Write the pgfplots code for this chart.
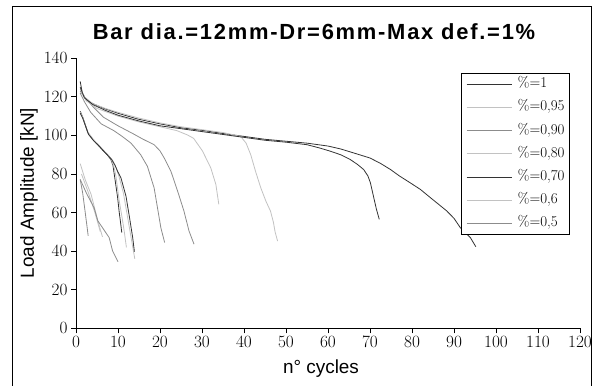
\documentclass[border=0pt]{standalone}
\usepackage{fontspec}
\usepackage{pgfplots}
\pgfplotsset{compat=1.18}
\newfontfamily\arial{Liberation Sans}
\newfontfamily\titlefont[LetterSpace=8]{Liberation Sans Bold}
\definecolor{cdark}{gray}{0.2}
\definecolor{cmed}{gray}{0.55}
\definecolor{clight}{gray}{0.76}
\begin{document}
\begin{tikzpicture}[x=1bp,y=1bp]
\begin{axis}[
  at={(76bp,56.7bp)}, anchor=south west,
  scale only axis, width=504bp, height=270bp,
  xmin=0, xmax=120, ymin=0, ymax=140,
  xtick={0,10,...,120}, ytick={0,20,...,140},
  axis x line*=bottom, axis y line*=left,
  axis line style={-, black, line width=0.8bp},
  tick align=outside, major tick length=5bp,
  tick style={black, line width=0.8bp},
  ticklabel style={font=\fontsize{16}{16}\selectfont},
  legend style={at={(0.763,0.9467)}, anchor=north west, draw=black, line width=0.8bp,
    fill=white, inner sep=5.2bp, row sep=11.2bp,
    nodes={inner sep=0pt, text height=9.5bp, text depth=2.5bp, font=\fontsize{15}{15}\selectfont}},
  legend cell align=left,
  legend image code/.code={\draw[#1] (0bp,0bp) -- (45bp,0bp); \path (51bp,0bp);},
  every axis plot/.append style={line width=0.8bp, mark=none},
]
% %=1
\addplot[cdark] coordinates {(1,128) (1.5,122) (2.4,118.5) (4,116.5) (6.7,114) (10,111.5) (14.7,108.5) (20,106) (25,104) (30.5,102.5) (35,101) (40,99.5) (45,98) (50,97) (55,96) (60,94.5) (63,93) (66,91) (70,88.3) (72.5,85.5) (74.9,82.3) (77,79) (79.6,75.4) (82,72) (84.4,67.7) (86.5,64) (88.3,60.8) (90,57) (91.5,52.2) (93.9,47) (95.2,42.3)};
\addlegendentry{\%=1}
% %=0.95
\addplot[clight] coordinates {(1,124) (2,120) (4,116.5) (7,114) (10,112) (15,109) (20,106.5) (25,104.5) (30,103) (35,101.5) (39.2,99.5) (40.5,96) (41.6,90) (42.8,81) (44,72.8) (45.2,66) (46.3,60.8) (47,55) (47.4,50) (48,45.2)};
\addlegendentry{\%=0,95}
% %=0.90
\addplot[cmed] coordinates {(1,123) (2,120) (4,115) (6.5,109.5) (10,105) (13.5,101) (16,98) (18.6,95.2) (20,92) (21,88.3) (22.6,81.4) (24.2,71.1) (25.7,60.8) (26.9,50.5) (28.1,43.6)};
\addlegendentry{\%=0,90}
% %=0.80
\addplot[clight] coordinates {(1,124) (2.4,118) (5,114) (10,110) (15,107) (21,104) (24,102.5) (26.5,100.3) (28,98.5) (30.1,92) (31,88) (32.1,83.1) (33.3,74.6) (34,64.3)};
\addlegendentry{\%=0,80}
% %=0.70
\addplot[cdark] coordinates {(1,125) (2,119.5) (4,116) (7,113) (10,110.5) (15,107.5) (20,105) (25,103.5) (30,102) (35,100.5) (40,99) (45,97.5) (50,96.5) (55,95.2) (58,93.5) (60.6,91.8) (63,90) (65.3,87.5) (67,85) (68.5,82.3) (69.5,79) (70.1,75.4) (70.9,67.7) (71.5,62) (72.2,56.5)};
\addlegendentry{\%=0,70}
% %=0.6
\addplot[clight] coordinates {(1,111.8) (1.6,109.5) (2.9,101) (4.2,97.5) (5.4,94.8) (6.7,91.8) (7.8,89.5) (8.8,86.8) (9.6,83) (10.2,79) (11.3,70) (12.3,57.4) (13.2,46) (14,36)};
\addlegendentry{\%=0,6}
% %=0.5
\addplot[cmed] coordinates {(1,122) (2,117.5) (3.5,112) (6,106) (9,102.5) (11,99.5) (13.1,96) (15.4,90) (17,84) (18.6,72.8) (19.4,62.5) (20.2,52.2) (21.1,44.5)};
\addlegendentry{\%=0,5}
% further curves
\addplot[cdark, forget plot] coordinates {(1,112.5) (1.5,110) (2.8,101.5) (4,98) (5.2,95.2) (6.5,92) (7.5,89.8) (8.3,87.5) (8.8,84.5) (9.1,80) (9.5,74) (9.9,68) (10.3,60) (10.6,55) (10.9,49.6)};
\addplot[clight, forget plot] coordinates {(1,112) (1.5,110) (2.8,101.8) (4,98.3) (5.2,95.5) (6.5,92.3) (7.5,90.2) (8.4,87.5) (9,84) (9.5,79) (10.3,66) (11,57) (11.5,50) (12,42)};
\addplot[cdark, forget plot] coordinates {(1,111.5) (1.6,109) (3,100.5) (4.3,97) (5.5,94.5) (7,91) (8.5,87.5) (9.3,84.5) (9.9,81.4) (10.7,78) (11.9,68.5) (12.7,58) (13.5,47) (13.9,39.8)};
\addplot[clight, forget plot] coordinates {(1,85.4) (2.2,77) (3.6,69.4) (5.2,55.7) (6.3,47.4)};
\addplot[clight, forget plot] coordinates {(1.3,80) (3,70) (4.5,60) (5.8,50)};
\addplot[cmed, forget plot] coordinates {(1,77.2) (1.6,70) (2.2,60) (2.9,48)};
\addplot[cmed, forget plot] coordinates {(1,77.2) (2.5,70) (4.3,62.5) (5.2,55.7) (6.3,52.2) (7.9,47) (8.7,40.2) (10,34.5)};
\end{axis}
\node[font=\titlefont\fontsize{22}{22}\selectfont] at (314,353) {Bar dia.=12mm-Dr=6mm-Max def.=1\%};
\node[font=\arial\fontsize{19}{19}\selectfont] at (321,16) {n° cycles};
\node[font=\arial\fontsize{19}{19}\selectfont, rotate=90] at (29,192) {Load Amplitude [kN]};
\draw[line width=1bp] (12,-10) rectangle (591,378);
\pgfresetboundingbox
\useasboundingbox (0,0) rectangle (597,385);
\end{tikzpicture}
\end{document}
